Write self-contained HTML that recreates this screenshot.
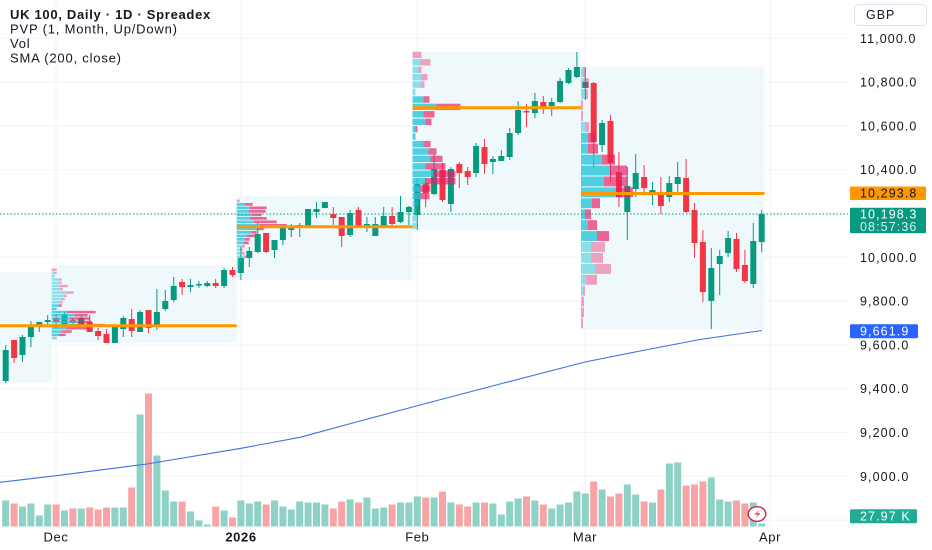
<!DOCTYPE html>
<html><head><meta charset="utf-8">
<style>
html,body{margin:0;padding:0;background:#fff;}
body{width:932px;height:550px;overflow:hidden;}
svg{display:block;font-family:"Liberation Sans",Arial,sans-serif;}
.c{fill:rgba(38,198,218,0.8);} .p{fill:rgba(233,30,99,0.68);}
.cl{fill:rgba(38,198,218,0.5);} .pl{fill:rgba(233,30,99,0.4);}
.ax{font-size:12.5px;fill:#131722;letter-spacing:1.1px;}
.tm{font-size:13px;fill:#131722;letter-spacing:0.6px;}
</style></head><body>
<svg width="932" height="550" viewBox="0 0 932 550" xmlns="http://www.w3.org/2000/svg">
<!-- grid -->
<g stroke="#f0f3fa" stroke-width="1">
<path d="M0 38.3H848M0 82.1H848M0 125.9H848M0 169.7H848M0 213.5H848M0 257.3H848M0 301.1H848M0 344.9H848M0 388.7H848M0 432.5H848M0 476.3H848M0 520.1H848"/>
<path d="M56 0V526M241 0V526M417.3 0V526M585 0V526M770 0V526"/>
</g>
<!-- profile region backgrounds -->
<g fill="#eff9fc">
<rect x="0" y="271.7" width="51.7" height="111"/>
<rect x="51.7" y="265" width="185" height="77.7"/>
<rect x="236.7" y="196" width="175.8" height="84"/>
<rect x="412.5" y="51.7" width="168.5" height="178.3"/>
<rect x="581" y="67.3" width="183.5" height="262"/>
</g>
<!-- volume -->
<path fill="#8ed1c5" stroke="#8ed1c5" stroke-width="1" d="M2.7 501h6V526h-6zM19.5 507h6V526h-6zM27.9 504h6V526h-6zM36.3 516h6V526h-6zM44.7 505h6V526h-6zM61.5 511h6V526h-6zM78.3 509h6V526h-6zM111.9 508h6V526h-6zM120.3 508h6V526h-6zM137.1 415h6V526h-6zM153.9 456h6V526h-6zM162.3 491h6V526h-6zM170.7 502h6V526h-6zM187.5 512h6V526h-6zM195.9 521h6V526h-6zM204.3 525h6V526h-6zM221.1 511h6V526h-6zM237.9 501h6V526h-6zM246.3 504h6V526h-6zM254.7 502h6V526h-6zM271.5 501h6V526h-6zM279.9 507h6V526h-6zM288.3 510h6V526h-6zM296.7 502h6V526h-6zM305.1 503h6V526h-6zM313.5 503h6V526h-6zM321.9 505h6V526h-6zM347.1 500h6V526h-6zM363.9 498h6V526h-6zM372.3 509h6V526h-6zM380.7 508h6V526h-6zM397.5 503h6V526h-6zM405.9 503h6V526h-6zM414.3 497h6V526h-6zM431.1 498h6V526h-6zM447.9 503h6V526h-6zM473.1 503h6V526h-6zM489.9 504h6V526h-6zM498.3 515h6V526h-6zM506.7 502h6V526h-6zM515.1 499h6V526h-6zM531.9 501h6V526h-6zM548.7 509h6V526h-6zM557.1 505h6V526h-6zM565.5 503h6V526h-6zM573.9 492h6V526h-6zM582.3 494h6V526h-6zM599.1 490h6V526h-6zM624.3 485h6V526h-6zM632.7 495h6V526h-6zM649.5 503h6V526h-6zM666.3 464h6V526h-6zM674.7 463h6V526h-6zM708.3 478h6V526h-6zM716.7 500h6V526h-6zM725.1 502h6V526h-6zM750.3 503h6V526h-6zM758.7 524h6V526h-6z"/>
<path fill="#f7a4a6" stroke="#f7a4a6" stroke-width="1" d="M11.1 504h6V526h-6zM53.1 505h6V526h-6zM69.9 509h6V526h-6zM86.7 508h6V526h-6zM95.1 510h6V526h-6zM103.5 508h6V526h-6zM128.7 488h6V526h-6zM145.5 394h6V526h-6zM179.1 502h6V526h-6zM212.7 507h6V526h-6zM229.5 518h6V526h-6zM263.1 505h6V526h-6zM330.3 509h6V526h-6zM338.7 502h6V526h-6zM355.5 503h6V526h-6zM389.1 505h6V526h-6zM422.7 498h6V526h-6zM439.5 492h6V526h-6zM456.3 505h6V526h-6zM464.7 507h6V526h-6zM481.5 503h6V526h-6zM523.5 497h6V526h-6zM540.3 505h6V526h-6zM590.7 482h6V526h-6zM607.5 497h6V526h-6zM615.9 494h6V526h-6zM641.1 502h6V526h-6zM657.9 490h6V526h-6zM683.1 486h6V526h-6zM691.5 485h6V526h-6zM699.9 482h6V526h-6zM733.5 501h6V526h-6zM741.9 504h6V526h-6z"/>
<!-- SMA -->
<polyline fill="none" stroke="#3f6fe8" stroke-width="1.1" points="0,482.3 56,475.7 147,464 241,448.3 300,437.3 360,421 420,405 500,384 585,362 640,351 700,339.5 762,330.5"/>
<!-- candles -->
<path fill="none" stroke="#089981" stroke-width="1" d="M5.7 345V383M22.5 335V362M30.9 321V347M39.3 322V332M47.7 315V325M64.5 312V327M81.3 316V327M114.9 327V343M123.3 316V337M140.1 310V332M156.9 289V330M165.3 290V311M173.7 277V302M190.5 279V292M198.9 281V288M207.3 281V287M224.1 268V288M240.9 247V280M249.3 247V267M257.7 223V253M274.5 240V258M282.9 225V245M291.3 224V237M299.7 223V237M308.1 209V226M316.5 202V218M324.9 202V208M350.1 210V237M366.9 217V232M375.3 217V236M383.7 207V226M400.5 196V223M408.9 206V225M417.3 178V230M434.1 154V195M450.9 167V212M476.1 143V177M492.9 156V174M501.3 150V161M509.7 128V160M518.1 101V135M534.9 93V118M551.7 98V116M560.1 78V103M568.5 68V84M576.9 52V78M585.3 67V100M602.1 120V152M627.3 167V240M635.7 154V197M652.5 182V205M669.3 176V202M677.7 162V192M711.3 248V329M719.7 250V295M728.1 231V257M753.3 223V288M761.7 210V252"/>
<path fill="#089981" d="M2.7 350h6v31h-6zM19.5 337h6v18h-6zM27.9 327h6v10h-6zM36.3 322h6v3h-6zM44.7 320h6v2h-6zM61.5 314h6v11h-6zM78.3 318h6v7h-6zM111.9 327h6v16h-6zM120.3 318h6v11h-6zM137.1 312h6v20h-6zM153.9 312h6v13h-6zM162.3 301h6v8h-6zM170.7 286h6v14h-6zM187.5 285h6v2h-6zM195.9 284h6v1.5h-6zM204.3 283h6v3h-6zM221.1 270h6v16h-6zM237.9 258h6v15h-6zM246.3 251h6v7h-6zM254.7 234h6v18h-6zM271.5 240h6v10h-6zM279.9 228h6v12h-6zM288.3 228h6v2h-6zM296.7 225h6v2h-6zM305.1 209h6v17h-6zM313.5 209h6v3h-6zM321.9 202h6v6h-6zM347.1 213h6v22h-6zM363.9 224h6v2h-6zM372.3 224h6v12h-6zM380.7 216h6v10h-6zM397.5 212h6v10h-6zM405.9 207h6v5h-6zM414.3 184h6v31h-6zM431.1 169h6v25h-6zM447.9 169h6v35h-6zM473.1 146h6v27h-6zM489.9 159h6v3h-6zM498.3 156h6v5h-6zM506.7 133h6v24h-6zM515.1 110h6v23h-6zM531.9 101h6v12h-6zM548.7 102h6v4h-6zM557.1 81h6v21h-6zM565.5 70h6v13h-6zM573.9 67h6v10h-6zM582.3 82h6v6h-6zM599.1 123h6v22h-6zM624.3 186h6v26h-6zM632.7 173h6v16h-6zM649.5 190h6v2h-6zM666.3 183h6v14h-6zM674.7 177h6v7h-6zM708.3 268h6v33h-6zM716.7 256h6v8h-6zM725.1 238h6v15h-6zM750.3 241h6v43h-6zM758.7 214h6v28h-6z"/>
<path fill="none" stroke="#f23645" stroke-width="1" d="M14.1 340V363M56.1 314V328M72.9 318V326M89.7 315V332M98.1 328V340M106.5 329V343M131.7 309V337M148.5 310V333M182.1 279V295M215.7 279V288M232.5 267V277M266.1 233V253M333.3 207V225M341.7 217V247M358.5 207V227M392.1 207V226M425.7 178V207M442.5 163V202M459.3 162V188M467.7 167V185M484.5 139V174M526.5 104V127M543.3 96V114M593.7 82V168M610.5 115V182M618.9 152V207M644.1 165V192M660.9 177V214M686.1 159V213M694.5 203V258M702.9 230V302M736.5 233V272M744.9 250V283"/>
<path fill="#f23645" d="M11.1 340h6v18h-6zM53.1 318h6v4h-6zM69.9 320h6v3h-6zM86.7 322h6v10h-6zM95.1 331h6v5h-6zM103.5 334h6v9h-6zM128.7 319h6v12h-6zM145.5 310h6v18h-6zM179.1 282h6v5h-6zM212.7 283h6v3h-6zM229.5 270h6v5h-6zM263.1 233h6v19h-6zM330.3 214h6v4h-6zM338.7 217h6v19h-6zM355.5 210h6v16h-6zM389.1 216h6v8h-6zM422.7 183h6v10h-6zM439.5 170h6v30h-6zM456.3 164h6v9h-6zM464.7 171h6v6h-6zM481.5 147h6v17h-6zM523.5 111h6v1.5h-6zM540.3 102h6v6h-6zM590.7 83h6v59h-6zM607.5 121h6v42h-6zM615.9 172h6v25h-6zM641.1 177h6v11h-6zM657.9 194h6v12h-6zM683.1 178h6v34h-6zM691.5 210h6v33h-6zM699.9 242h6v50h-6zM733.5 239h6v30h-6zM741.9 265h6v16h-6z"/>
<!-- profile R2 (Dec) -->
<g>
<rect class="pl" x="51.7" y="268.6" width="5" height="2.5"/>
<rect class="cl" x="51.7" y="271.8" width="3" height="2.5"/><rect class="pl" x="54.7" y="271.8" width="2" height="2.5"/>
<rect class="cl" x="51.7" y="275" width="3" height="2.5"/>
<rect class="cl" x="51.7" y="278.3" width="7" height="2.5"/><rect class="pl" x="58.7" y="278.3" width="3" height="2.5"/>
<rect class="cl" x="51.7" y="281.6" width="8" height="2.5"/><rect class="pl" x="59.7" y="281.6" width="2" height="2.5"/>
<rect class="cl" x="51.7" y="284.8" width="8" height="2.5"/><rect class="pl" x="59.7" y="284.8" width="8" height="2.5"/>
<rect class="cl" x="51.7" y="288" width="8" height="2.5"/><rect class="pl" x="59.7" y="288" width="3" height="2.5"/>
<rect class="cl" x="51.7" y="291.3" width="15" height="2.5"/><rect class="pl" x="66.7" y="291.3" width="7" height="2.5"/>
<rect class="cl" x="51.7" y="294.6" width="12" height="2.5"/><rect class="pl" x="63.7" y="294.6" width="3" height="2.5"/>
<rect class="cl" x="51.7" y="297.8" width="10" height="2.5"/><rect class="pl" x="61.7" y="297.8" width="3" height="2.5"/>
<rect class="cl" x="51.7" y="301" width="8" height="2.5"/><rect class="pl" x="59.7" y="301" width="3" height="2.5"/>
<rect class="c" x="51.7" y="304.3" width="7" height="2.5"/><rect class="p" x="58.7" y="304.3" width="3" height="2.5"/>
<rect class="c" x="51.7" y="307.6" width="5" height="2.5"/>
<rect class="c" x="51.7" y="310.8" width="15" height="2.5"/><rect class="p" x="66.7" y="310.8" width="29" height="2.5"/>
<rect class="c" x="51.7" y="314" width="23" height="2.5"/><rect class="p" x="74.7" y="314" width="13" height="2.5"/>
<rect class="c" x="51.7" y="317.3" width="18" height="2.5"/><rect class="p" x="69.7" y="317.3" width="20" height="2.5"/>
<rect class="c" x="51.7" y="320.6" width="25" height="2.5"/><rect class="p" x="76.7" y="320.6" width="15" height="2.5"/>
<rect class="c" x="51.7" y="323.8" width="27" height="2.5"/><rect class="p" x="78.7" y="323.8" width="26" height="2.5"/>
<rect class="c" x="51.7" y="327" width="15" height="2.5"/><rect class="p" x="66.7" y="327" width="22" height="2.5"/>
<rect class="c" x="51.7" y="330.3" width="10" height="2.5"/><rect class="p" x="61.7" y="330.3" width="10" height="2.5"/>
<rect class="c" x="51.7" y="333.6" width="7" height="2.5"/><rect class="p" x="58.7" y="333.6" width="7" height="2.5"/>
<rect class="cl" x="51.7" y="336.8" width="3" height="2.5"/><rect class="pl" x="54.7" y="336.8" width="2" height="2.5"/>
</g>
<!-- profile R3 (Jan) -->
<g>
<rect class="pl" x="236.7" y="199.5" width="3" height="2.7"/>
<rect class="c" x="236.7" y="203" width="8" height="2.7"/><rect class="p" x="244.7" y="203" width="8" height="2.7"/>
<rect class="c" x="236.7" y="206.5" width="13" height="2.7"/><rect class="p" x="249.7" y="206.5" width="17" height="2.7"/>
<rect class="c" x="236.7" y="210" width="12" height="2.7"/><rect class="p" x="248.7" y="210" width="17" height="2.7"/>
<rect class="c" x="236.7" y="213.5" width="15" height="2.7"/><rect class="p" x="251.7" y="213.5" width="10" height="2.7"/>
<rect class="c" x="236.7" y="217" width="13" height="2.7"/><rect class="p" x="249.7" y="217" width="17" height="2.7"/>
<rect class="c" x="236.7" y="220.5" width="17" height="2.7"/><rect class="p" x="253.7" y="220.5" width="23" height="2.7"/>
<rect class="c" x="236.7" y="224" width="23" height="2.7"/><rect class="p" x="259.7" y="224" width="27" height="2.7"/>
<rect class="c" x="236.7" y="227.5" width="20" height="2.7"/><rect class="p" x="256.7" y="227.5" width="7" height="2.7"/>
<rect class="c" x="236.7" y="231" width="15" height="2.7"/><rect class="p" x="251.7" y="231" width="5" height="2.7"/>
<rect class="c" x="236.7" y="234.5" width="10" height="2.7"/><rect class="p" x="246.7" y="234.5" width="8" height="2.7"/>
<rect class="c" x="236.7" y="238" width="8" height="2.7"/><rect class="p" x="244.7" y="238" width="5" height="2.7"/>
<rect class="c" x="236.7" y="241.5" width="7" height="2.7"/><rect class="p" x="243.7" y="241.5" width="5" height="2.7"/>
<rect class="cl" x="236.7" y="245" width="5" height="2.7"/><rect class="pl" x="241.7" y="245" width="3" height="2.7"/>
<rect class="cl" x="236.7" y="248.5" width="4" height="2.7"/><rect class="pl" x="240.7" y="248.5" width="2" height="2.7"/>
<rect class="cl" x="236.7" y="252" width="5" height="2.7"/><rect class="pl" x="241.7" y="252" width="3" height="2.7"/>
<rect class="cl" x="236.7" y="255.5" width="7" height="2.7"/><rect class="pl" x="243.7" y="255.5" width="3" height="2.7"/>
<rect class="cl" x="236.7" y="259" width="5" height="2.7"/>
<rect class="cl" x="236.7" y="262.5" width="3" height="2.7"/>
<rect class="cl" x="236.7" y="266" width="3" height="2.7"/>
<rect class="cl" x="236.7" y="269.5" width="3" height="2.7"/>
</g>
<!-- profile R4 (Feb) -->
<g>
<rect class="pl" x="412.5" y="51.7" width="9" height="6.4"/>
<rect class="cl" x="412.5" y="59.1" width="8" height="6.4"/><rect class="pl" x="420.5" y="59.1" width="10" height="6.4"/>
<rect class="cl" x="412.5" y="66.6" width="6" height="6.4"/><rect class="pl" x="418.5" y="66.6" width="3" height="6.4"/>
<rect class="cl" x="412.5" y="74" width="9" height="6.4"/><rect class="pl" x="421.5" y="74" width="6" height="6.4"/>
<rect class="cl" x="412.5" y="81.4" width="9" height="6.4"/><rect class="pl" x="421.5" y="81.4" width="3" height="6.4"/>
<rect class="cl" x="412.5" y="88.9" width="3" height="6.4"/>
<rect class="c" x="412.5" y="96.3" width="11" height="6.4"/><rect class="p" x="423.5" y="96.3" width="6" height="6.4"/>
<rect class="c" x="412.5" y="103.7" width="24" height="6.4"/><rect class="p" x="436.5" y="103.7" width="24" height="6.4"/>
<rect class="c" x="412.5" y="111.1" width="11" height="6.4"/><rect class="p" x="423.5" y="111.1" width="11" height="6.4"/>
<rect class="c" x="412.5" y="118.6" width="13" height="6.4"/><rect class="p" x="425.5" y="118.6" width="6" height="6.4"/>
<rect class="c" x="412.5" y="126" width="3" height="6.4"/><rect class="p" x="415.5" y="126" width="2" height="6.4"/>
<rect class="c" x="412.5" y="133.4" width="3" height="6.4"/>
<rect class="c" x="412.5" y="140.9" width="11" height="6.4"/><rect class="p" x="423.5" y="140.9" width="7" height="6.4"/>
<rect class="c" x="412.5" y="148.3" width="16" height="6.4"/><rect class="p" x="428.5" y="148.3" width="8" height="6.4"/>
<rect class="c" x="412.5" y="155.7" width="18" height="6.4"/><rect class="p" x="430.5" y="155.7" width="12" height="6.4"/>
<rect class="c" x="412.5" y="163.2" width="13" height="6.4"/><rect class="p" x="425.5" y="163.2" width="20" height="6.4"/>
<rect class="c" x="412.5" y="170.6" width="21" height="6.4"/><rect class="p" x="433.5" y="170.6" width="22" height="6.4"/>
<rect class="c" x="412.5" y="178" width="13" height="6.4"/><rect class="p" x="425.5" y="178" width="30" height="6.4"/>
<rect class="c" x="412.5" y="185.4" width="8" height="6.4"/><rect class="p" x="420.5" y="185.4" width="10" height="6.4"/>
<rect class="c" x="412.5" y="192.9" width="8" height="6.4"/><rect class="p" x="420.5" y="192.9" width="9" height="6.4"/>
<rect class="cl" x="412.5" y="200.3" width="6" height="6.4"/>
<rect class="cl" x="412.5" y="207.7" width="4" height="6.4"/>
<rect class="cl" x="412.5" y="215.2" width="4" height="6.4"/>
<rect class="cl" x="412.5" y="222.6" width="4" height="6.4"/>
</g>
<!-- profile R5 (Mar) -->
<g>
<rect class="cl" x="581" y="67.3" width="2" height="9.9"/><rect class="pl" x="583" y="67.3" width="2" height="9.9"/>
<rect class="cl" x="581" y="78.2" width="2" height="9.9"/><rect class="pl" x="583" y="78.2" width="6" height="9.9"/>
<rect class="cl" x="581" y="89.1" width="4" height="9.9"/><rect class="pl" x="585" y="89.1" width="3" height="9.9"/>
<rect class="pl" x="581" y="100.1" width="2" height="9.9"/>
<rect class="pl" x="581" y="111" width="2" height="9.9"/>
<rect class="cl" x="581" y="121.9" width="4" height="9.9"/><rect class="pl" x="585" y="121.9" width="4" height="9.9"/>
<rect class="c" x="581" y="132.8" width="7" height="9.9"/><rect class="p" x="588" y="132.8" width="8" height="9.9"/>
<rect class="c" x="581" y="143.7" width="7" height="9.9"/><rect class="p" x="588" y="143.7" width="10" height="9.9"/>
<rect class="c" x="581" y="154.7" width="21" height="9.9"/><rect class="p" x="602" y="154.7" width="13" height="9.9"/>
<rect class="c" x="581" y="165.6" width="29" height="9.9"/><rect class="p" x="610" y="165.6" width="17" height="9.9"/>
<rect class="c" x="581" y="176.5" width="23" height="9.9"/><rect class="p" x="604" y="176.5" width="23" height="9.9"/>
<rect class="c" x="581" y="187.4" width="35" height="9.9"/><rect class="p" x="616" y="187.4" width="17" height="9.9"/>
<rect class="c" x="581" y="198.3" width="11" height="9.9"/><rect class="p" x="592" y="198.3" width="8" height="9.9"/>
<rect class="c" x="581" y="209.3" width="4" height="9.9"/><rect class="p" x="585" y="209.3" width="6" height="9.9"/>
<rect class="c" x="581" y="220.2" width="7" height="9.9"/><rect class="p" x="588" y="220.2" width="9" height="9.9"/>
<rect class="c" x="581" y="231.1" width="16" height="9.9"/><rect class="p" x="597" y="231.1" width="12" height="9.9"/>
<rect class="cl" x="581" y="242" width="10" height="9.9"/><rect class="pl" x="591" y="242" width="14" height="9.9"/>
<rect class="cl" x="581" y="252.9" width="10" height="9.9"/><rect class="pl" x="591" y="252.9" width="12" height="9.9"/>
<rect class="cl" x="581" y="263.9" width="14" height="9.9"/><rect class="pl" x="595" y="263.9" width="16" height="9.9"/>
<rect class="cl" x="581" y="274.8" width="5" height="9.9"/><rect class="pl" x="586" y="274.8" width="11" height="9.9"/>
<rect class="cl" x="581" y="285.7" width="2" height="9.9"/><rect class="pl" x="583" y="285.7" width="2" height="9.9"/>
<rect class="cl" x="581" y="296.6" width="1" height="9.9"/><rect class="pl" x="582" y="296.6" width="2" height="9.9"/>
<rect class="pl" x="581" y="307.5" width="3" height="9.9"/>
<rect class="pl" x="581" y="318.4" width="2" height="9.9"/>
</g>
<!-- POC lines -->
<g stroke="#ff9800" stroke-width="3">
<path d="M0 325.7H236.7M236.7 226.7H412.5M412.5 107.7H581M581 193.5H764.5"/>
</g>
<!-- last price dotted -->
<path d="M0 214H848" stroke="#089981" stroke-width="1" stroke-dasharray="1.5 2"/>
<!-- legend -->
<text x="10" y="19" font-size="13" font-weight="bold" fill="#131722" letter-spacing="0.7">UK 100, Daily · 1D · Spreadex</text>
<text x="10" y="33.5" font-size="13" fill="#131722" letter-spacing="0.8">PVP (1, Month, Up/Down)</text>
<text x="10" y="48" font-size="13" fill="#131722" letter-spacing="0.8">Vol</text>
<text x="10" y="62.5" font-size="13" fill="#131722" letter-spacing="0.8">SMA (200, close)</text>
<!-- price axis -->
<rect x="854.5" y="4.5" width="72" height="21" rx="4" fill="#fff" stroke="#e0e3eb"/>
<text x="866" y="19.2" font-size="12.5" fill="#131722" letter-spacing="1">GBP</text>
<g class="ax">
<text x="860" y="42.8">11,000.0</text>
<text x="860" y="86.6">10,800.0</text>
<text x="860" y="130.4">10,600.0</text>
<text x="860" y="174.2">10,400.0</text>
<text x="860" y="261.8">10,000.0</text>
<text x="860" y="305.6">9,800.0</text>
<text x="860" y="349.4">9,600.0</text>
<text x="860" y="393.2">9,400.0</text>
<text x="860" y="437">9,200.0</text>
<text x="860" y="480.8">9,000.0</text>
</g>
<rect x="850" y="186.5" width="76" height="13.5" rx="1.5" fill="#ff9800"/>
<text x="860" y="197.6" class="ax">10,293.8</text>
<rect x="850" y="207.7" width="76" height="25.6" rx="1.5" fill="#089981"/>
<text x="860" y="218.6" class="ax" style="fill:#fff">10,198.3</text>
<text x="860" y="231" class="ax" style="fill:#d6f0ea">08:57:36</text>
<rect x="850" y="324.3" width="68" height="14" rx="1.5" fill="#2962ff"/>
<text x="860" y="335.6" class="ax" style="fill:#fff">9,661.9</text>
<rect x="850" y="509.3" width="67" height="14" rx="1.5" fill="#22ab94"/>
<text x="860" y="520.6" class="ax" style="fill:#fff">27.97 K</text>
<!-- event icon -->
<ellipse cx="757" cy="514" rx="8.8" ry="7.3" fill="#fff" stroke="#c4284a" stroke-width="1.4"/>
<path d="M759.5 509.5L754.5 514.5H758L755 518.8L760.5 513.3H757Z" fill="#e0334f"/>
<!-- time axis -->
<g class="tm">
<text x="56" y="541.5" text-anchor="middle">Dec</text>
<text x="241" y="541.5" text-anchor="middle" font-weight="bold">2026</text>
<text x="417.3" y="541.5" text-anchor="middle">Feb</text>
<text x="585" y="541.5" text-anchor="middle">Mar</text>
<text x="770" y="541.5" text-anchor="middle">Apr</text>
</g>
</svg>
</body></html>
